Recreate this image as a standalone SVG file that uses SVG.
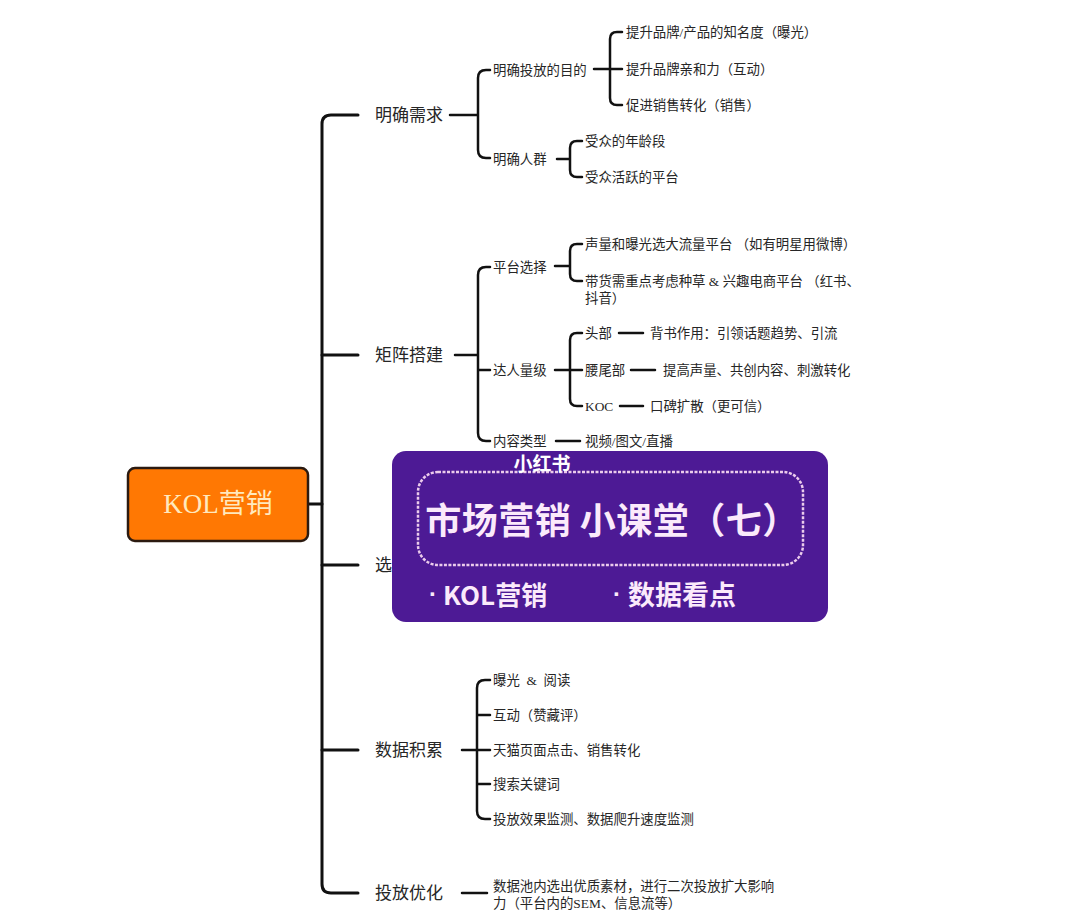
<svg xmlns="http://www.w3.org/2000/svg" width="1080" height="918" viewBox="0 0 1080 918">
<style>
.ln{fill:none;stroke:#111;stroke-width:2.5;stroke-linecap:round;stroke-linejoin:round}
.sp{stroke-width:3}
.t{font-family:"Liberation Serif","Noto Sans CJK SC",sans-serif;fill:#262626;dominant-baseline:central}
.l1{font-size:17px}
.l2{font-size:13.4px}
.ov{font-family:"Noto Sans CJK SC","Noto Sans",sans-serif;fill:#FBEAFB;font-weight:700;dominant-baseline:central}
.dot{font-family:"Liberation Sans",sans-serif;fill:#FBEAFB;font-weight:700;dominant-baseline:central;text-anchor:middle}
</style>
<rect width="1080" height="918" fill="#ffffff"/>
<g id="connectors">
<path class="ln sp" d="M358,115 H331 Q322,115 322,124 V884 Q322,893 331,893 H358"/>
<path class="ln sp" d="M322,355 H358 M322,565 H358 M322,750 H358 M308,504 H322"/>
<path class="ln" d="M450,115 H478 M490,70 H486 Q478,70 478,78 V150 Q478,158 486,158 H490"/>
<path class="ln" d="M594,69 H622 M622,32 H617 Q610,32 610,39 V98 Q610,105 617,105 H622"/>
<path class="ln" d="M557,159 H570 M582,141 H577 Q570,141 570,148 V170 Q570,177 577,177 H582"/>
<path class="ln" d="M455,355 H478 M490,267 H486 Q478,267 478,275 V433 Q478,441 486,441 H490 M478,370 H490"/>
<path class="ln" d="M555,266 H570 M582,244 H577 Q570,244 570,251 V274 Q570,281 577,281 H582"/>
<path class="ln" d="M555,370 H582 M582,333 H577 Q570,333 570,340 V399 Q570,406 577,406 H582"/>
<path class="ln" d="M619,333 H643 M631,370 H655 M620,406 H643 M556,441 H580"/>
<path class="ln" d="M462,750 H490 M490,680 H485 Q477,680 477,688 V811 Q477,819 485,819 H490 M477,715 H490 M477,784 H490"/>
<path class="ln" d="M462,893 H487"/>
</g>
<g id="root">
<rect x="128" y="468" width="180" height="73" rx="7" fill="#FF7803" stroke="#2b1a10" stroke-width="2.5"/>
<text class="t" x="218" y="504" font-size="27" text-anchor="middle" style="fill:#FFE9BE">KOL营销</text>
</g>
<g id="n-mingque">
<text class="t l1" x="375" y="115">明确需求</text>
<text class="t l2" x="493" y="70">明确投放的目的</text>
<text class="t l2" x="626" y="32">提升品牌/产品的知名度（曝光）</text>
<text class="t l2" x="626" y="69">提升品牌亲和力（互动）</text>
<text class="t l2" x="626" y="105">促进销售转化（销售）</text>
<text class="t l2" x="493" y="159">明确人群</text>
<text class="t l2" x="585" y="141">受众的年龄段</text>
<text class="t l2" x="585" y="177">受众活跃的平台</text>
</g>
<g id="n-juzhen">
<text class="t l1" x="375" y="355">矩阵搭建</text>
<text class="t l2" x="493" y="267">平台选择</text>
<text class="t l2" x="585" y="244">声量和曝光选大流量平台 （如有明星用微博）</text>
<text class="t l2" x="585" y="281">带货需重点考虑种草 &amp; 兴趣电商平台 （红书、</text>
<text class="t l2" x="585" y="298">抖音）</text>
<text class="t l2" x="493" y="370">达人量级</text>
<text class="t l2" x="585" y="333">头部</text>
<text class="t l2" x="650" y="333">背书作用：引领话题趋势、引流</text>
<text class="t l2" x="585" y="370">腰尾部</text>
<text class="t l2" x="663" y="370">提高声量、共创内容、刺激转化</text>
<text class="t l2" x="585" y="406">KOC</text>
<text class="t l2" x="650" y="406">口碑扩散（更可信）</text>
<text class="t l2" x="493" y="441">内容类型</text>
<text class="t l2" x="585" y="441">视频/图文/直播</text>
</g>
<g id="n-xuan">
<text class="t l1" x="375" y="565">选</text>
</g>
<g id="n-shuju">
<text class="t l1" x="375" y="750">数据积累</text>
<text class="t l2" x="493" y="680" xml:space="preserve">曝光  &amp;  阅读</text>
<text class="t l2" x="493" y="715">互动（赞藏评）</text>
<text class="t l2" x="493" y="750">天猫页面点击、销售转化</text>
<text class="t l2" x="493" y="784">搜索关键词</text>
<text class="t l2" x="493" y="819">投放效果监测、数据爬升速度监测</text>
</g>
<g id="n-youhua">
<text class="t l1" x="375" y="893">投放优化</text>
<text class="t l2" x="493" y="886">数据池内选出优质素材，进行二次投放扩大影响</text>
<text class="t l2" x="493" y="903">力（平台内的SEM、信息流等）</text>
</g>
<g id="overlay">
<rect x="392" y="451" width="436" height="171" rx="14" fill="#4D1A95"/>
<rect x="418" y="472" width="385" height="93" rx="20" fill="none" stroke="#EBCBEB" stroke-width="2.5" stroke-dasharray="3 1.5"/>
<text class="ov" x="542" y="462" font-size="19" text-anchor="middle" style="fill:#ffffff">小红书</text>
<text class="ov" x="612" y="518" font-size="36" text-anchor="middle" letter-spacing="0.5">市场营销 小课堂（七）</text>
<text class="dot" x="433" y="593" font-size="24">·</text>
<text class="ov" x="443" y="593" font-size="26">KOL营销</text>
<text class="dot" x="617" y="593" font-size="24">·</text>
<text class="ov" x="628" y="593" font-size="27">数据看点</text>
</g>
</svg>
